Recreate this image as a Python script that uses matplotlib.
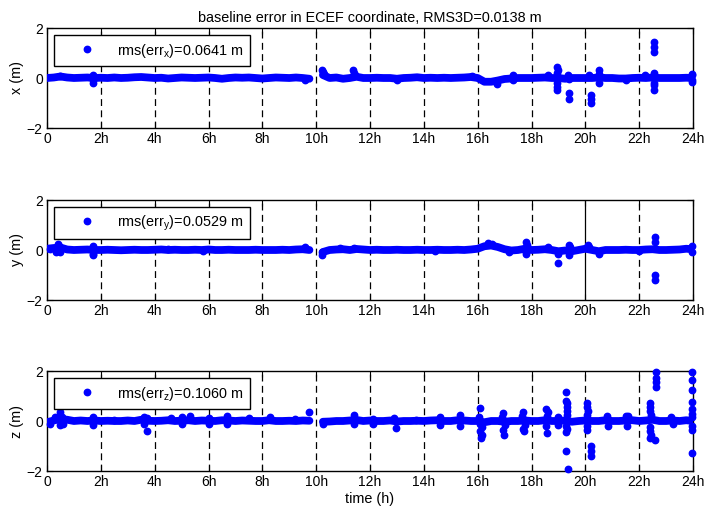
import numpy as np
import matplotlib
matplotlib.use("Agg")
import matplotlib.pyplot as plt

plt.rcParams['font.family'] = ['Liberation Sans', 'DejaVu Sans']
plt.rcParams['mathtext.fontset'] = 'custom'
plt.rcParams['mathtext.rm'] = 'Liberation Sans'
plt.rcParams['mathtext.it'] = 'Liberation Sans'

# ---- data -------------------------------------------------------------
hours = [0, 2, 4, 6, 8, 10, 12, 14, 16, 18, 20, 22, 24]
hour_labels = ['0', '2h', '4h', '6h', '8h', '10h', '12h', '14h', '16h', '18h', '20h', '22h', '24h']
grid_hours = [2, 4, 6, 8, 10, 12, 14, 16, 18, 20, 22]
nan = float('nan')

# smooth part of each error component, one value every 15 min (0 .. 24 h)
x_core = [0.00, 0.02, 0.06, 0.02, 0.00, 0.01, 0.02, 0.00,
          0.01, 0.00, 0.02, 0.00, 0.01, 0.03, 0.04, 0.02,
          0.00, 0.01, -0.02, 0.00, 0.02, 0.01, 0.00, 0.01,
          0.02, 0.00, -0.03, 0.00, 0.02, 0.01, 0.02, 0.00,
          -0.02, 0.00, 0.02, 0.01, 0.00, 0.02, 0.00, -0.03,
          nan, 0.12, 0.00, 0.02, -0.03, 0.00, 0.05, 0.00,
          0.00, 0.01, 0.00, 0.00, -0.03, 0.00, 0.01, 0.03,
          0.00, 0.01, 0.00, 0.01, 0.00, 0.01, 0.02, 0.04,
          0.00, -0.15, -0.15, -0.10, -0.04, -0.02, 0.00, 0.00,
          0.00, 0.01, 0.02, 0.00, 0.00, -0.03, 0.00, 0.00,
          0.00, 0.00, 0.02, 0.00, 0.00, -0.02, -0.02, 0.00,
          0.01, 0.00, 0.02, 0.00, 0.00, 0.00, 0.00, 0.01,
          0.00]
y_core = [0.05, 0.08, 0.10, 0.02, 0.00, 0.01, 0.02, 0.00,
          0.00, 0.01, 0.00, -0.01, 0.00, 0.01, 0.00, 0.00,
          0.01, 0.02, 0.00, 0.01, 0.00, 0.00, 0.01, 0.00,
          0.02, 0.00, 0.00, 0.01, 0.00, 0.00, 0.00, 0.01,
          0.00, 0.00, 0.00, 0.01, 0.00, 0.02, 0.03, 0.00,
          nan, -0.08, 0.00, 0.02, 0.03, 0.00, 0.04, 0.02,
          0.00, 0.01, 0.00, 0.00, 0.01, 0.00, 0.00, 0.01,
          0.00, 0.00, 0.01, 0.00, 0.00, 0.01, 0.00, 0.02,
          0.05, 0.15, 0.18, 0.12, 0.03, -0.02, 0.00, 0.05,
          0.00, 0.01, 0.03, 0.00, -0.05, -0.02, -0.05, 0.00,
          0.05, 0.00, -0.05, 0.00, 0.00, 0.00, 0.01, 0.00,
          0.00, 0.02, 0.03, 0.00, 0.00, 0.01, 0.02, 0.05,
          0.03]
z_core = [-0.05, 0.02, 0.08, 0.05, 0.00, 0.02, 0.00, 0.02,
          0.00, 0.01, 0.00, 0.00, 0.02, 0.00, 0.05, 0.01,
          0.00, 0.01, 0.03, 0.00, 0.01, 0.03, 0.00, 0.02,
          0.01, 0.00, 0.03, 0.02, 0.00, 0.02, 0.01, 0.00,
          0.00, 0.03, 0.00, 0.00, 0.01, 0.00, 0.02, 0.01,
          nan, -0.03, -0.02, 0.00, 0.00, 0.02, 0.04, 0.00,
          0.02, 0.00, 0.00, 0.02, -0.02, 0.00, 0.00, 0.01,
          0.00, 0.02, 0.03, 0.00, 0.00, 0.03, 0.02, 0.00,
          0.00, -0.05, 0.00, 0.00, -0.03, 0.00, 0.00, 0.02,
          0.00, 0.00, 0.03, 0.00, 0.00, 0.02, -0.03, 0.00,
          0.02, 0.00, 0.00, 0.03, 0.00, 0.00, 0.02, 0.03,
          0.00, 0.02, 0.05, 0.00, 0.00, 0.02, 0.00, 0.03,
          0.00]

# individual epochs that stand out from the smooth part
x_spike_t = [0.5, 1.7, 1.7, 1.72, 9.6, 10.2, 10.25, 10.3, 11.35, 11.4, 11.45, 13.0,
             15.8, 16.7, 17.3, 17.3, 18.6, 18.95, 18.97, 18.95, 18.93, 18.93, 18.95,
             19.35, 19.4, 19.4, 19.4, 20.15, 20.2, 20.2, 20.2, 20.5, 20.5, 20.5,
             21.5, 22.2, 22.55, 22.55, 22.55, 22.55, 22.55, 22.55, 22.55,
             23.95, 23.95, 23.98, 23.98]
x_spike_v = [0.08, 0.12, -0.10, -0.20, -0.10, 0.30, 0.22, 0.15, 0.30, 0.20, 0.10, -0.08,
             0.08, -0.25, 0.10, -0.10, 0.10, 0.45, 0.30, 0.20, -0.20, -0.35, -0.50,
             0.12, -0.05, -0.60, -0.85, 0.10, -0.68, -0.84, -1.00, 0.30, 0.15, -0.20,
             -0.08, 0.10, 0.20, -0.20, -0.30, -0.50, 1.03, 1.25, 1.45,
             0.15, -0.15, 0.10, -0.10]

y_spike_t = [0.1, 0.4, 0.45, 0.5, 0.35, 1.7, 1.7, 1.72, 4.5, 5.8, 9.6, 10.2, 10.2,
             10.9, 11.4, 14.4, 16.4, 16.55, 17.15, 17.8, 17.82, 17.8, 17.8, 18.6,
             19.0, 19.0, 19.4, 19.4, 19.42, 20.1, 20.12, 20.5, 22.0,
             22.6, 22.6, 22.6, 22.6, 23.95, 23.95]
y_spike_v = [0.05, 0.25, 0.15, -0.10, -0.10, 0.15, -0.15, -0.20, 0.05, -0.05, 0.10, -0.20, -0.10,
             0.08, 0.08, -0.05, 0.27, 0.22, -0.08, 0.30, 0.20, -0.10, -0.15, 0.10,
             -0.15, -0.53, 0.20, -0.20, 0.10, 0.20, 0.10, -0.15, -0.05,
             0.50, 0.30, -1.02, -1.22, 0.15, -0.10]

z_spike_t = [0.1, 0.3, 0.5, 0.5, 0.55, 0.5, 0.6, 1.7, 1.7, 2.5,
             3.6, 3.7, 3.6, 3.7, 4.6, 5.0, 5.0, 5.3, 6.0, 6.0, 6.7, 6.7,
             7.5, 8.3, 9.2, 9.75, 10.25, 11.4, 11.4, 12.1, 12.1,
             12.9, 12.95, 13.7, 14.6, 14.6, 15.35, 15.35,
             16.1, 16.05, 16.1, 16.15, 16.1, 16.15, 16.12,
             16.95, 16.9, 17.0, 16.95, 16.97,
             17.7, 17.65, 17.75, 17.7, 17.72,
             18.55, 18.6, 18.58, 18.55, 18.57,
             19.0, 19.0,
             19.3, 19.3, 19.32, 19.33, 19.32, 19.33, 19.3, 19.32, 19.3, 19.3, 19.35,
             20.05, 20.07, 20.1, 20.05, 20.08, 20.06, 20.2, 20.2, 20.2,
             20.8, 20.85, 21.5, 21.6, 21.55,
             22.4, 22.42, 22.4, 22.45, 22.4, 22.42, 22.45, 22.4, 22.6,
             22.63, 22.63, 22.63, 22.63,
             23.2, 23.25,
             23.95, 23.95, 23.95, 23.95, 23.97, 23.97, 23.95, 23.97, 23.95, 23.95]
z_spike_v = [-0.10, 0.15, 0.35, 0.25, 0.15, -0.15, -0.10, 0.15, -0.15, 0.05,
             0.15, 0.12, -0.12, -0.40, 0.12, 0.15, -0.10, 0.20, 0.12, -0.12, 0.20, -0.10,
             0.12, 0.15, 0.08, 0.36, -0.10, 0.25, -0.10, 0.10, -0.10,
             0.12, -0.28, 0.05, 0.15, -0.15, 0.25, -0.20,
             0.53, 0.15, -0.10, -0.25, -0.40, -0.55, -0.68,
             0.33, 0.15, -0.15, -0.35, -0.57,
             0.37, 0.20, -0.15, -0.30, -0.40,
             0.48, 0.35, 0.20, -0.20, -0.49,
             0.15, -0.15,
             1.17, 0.81, 0.72, 0.57, 0.40, 0.25, -0.20, -0.30, -0.43, -1.19, -1.93,
             0.72, 0.55, 0.40, 0.25, -0.20, -0.35, -1.00, -1.20, -1.40,
             0.20, -0.20, 0.22, 0.20, -0.18,
             0.72, 0.55, 0.40, 0.25, -0.25, -0.40, -0.55, -0.68, -0.76,
             1.97, 1.71, 1.55, 1.37,
             0.15, -0.12,
             1.97, 1.63, 1.23, 0.77, 0.50, 0.30, 0.15, -0.20, -0.35, -1.27]

rms_xyz = [0.0641, 0.0529, 0.1060]
rms3d = 0.0138

# ---- figure -----------------------------------------------------------
blue = (0, 0, 1)
t_core = np.linspace(0, 24, len(x_core))

fig = plt.figure(figsize=(7.05, 5.11), dpi=100)
left, width, height = 47 / 705, 646 / 705, 100 / 511
bottoms = [1 - 128 / 511, 1 - 300 / 511, 1 - 471 / 511]

panels = [
    ('x', x_core, x_spike_t, x_spike_v),
    ('y', y_core, y_spike_t, y_spike_v),
    ('z', z_core, z_spike_t, z_spike_v),
]

for k, (name, core, st, sv) in enumerate(panels):
    ax = fig.add_axes([left, bottoms[k], width, height])
    for h in grid_hours:
        solid = (name == 'y' and h == 20)
        ax.axvline(h, color='black', lw=0.9,
                   linestyle='-' if solid else (0, (5.5, 3.5)), zorder=1)
    ax.plot(t_core, core, '-', color=blue, lw=5.6,
            solid_capstyle='round', solid_joinstyle='round', zorder=3)
    ax.plot(st, sv, 'o', color=blue, mec=blue, ms=4.6, zorder=4, clip_on=False,
            label=r'rms(err$_\mathregular{%s}$)=%.4f m' % (name, rms_xyz[k]))
    ax.set_xlim(0, 24)
    ax.set_ylim(-2, 2)
    ax.set_xticks(hours)
    ax.set_xticklabels(hour_labels)
    ax.set_yticks([-2, 0, 2])
    ax.tick_params(direction='in', top=True, right=True, length=4,
                   width=0.8, labelsize=10, pad=3)
    for sp in ax.spines.values():
        sp.set_linewidth(1.0)
    ax.set_ylabel('%s (m)' % name, fontsize=10.4, labelpad=2)
    leg = ax.legend(loc='upper left', bbox_to_anchor=(0.011, 0.93),
                    borderaxespad=0, fontsize=10.4, fancybox=False,
                    edgecolor='black', framealpha=1, handlelength=3.7,
                    handletextpad=0.2, borderpad=0.45, numpoints=1)
    leg.get_frame().set_linewidth(1.0)
    if k == 0:
        ax.set_title('baseline error in ECEF coordinate, RMS3D=%.4f m' % rms3d,
                     fontsize=10.4, pad=4)
    if k == 2:
        ax.set_xlabel('time (h)', fontsize=10.4, labelpad=2)

fig.savefig('out.png', dpi=100)
